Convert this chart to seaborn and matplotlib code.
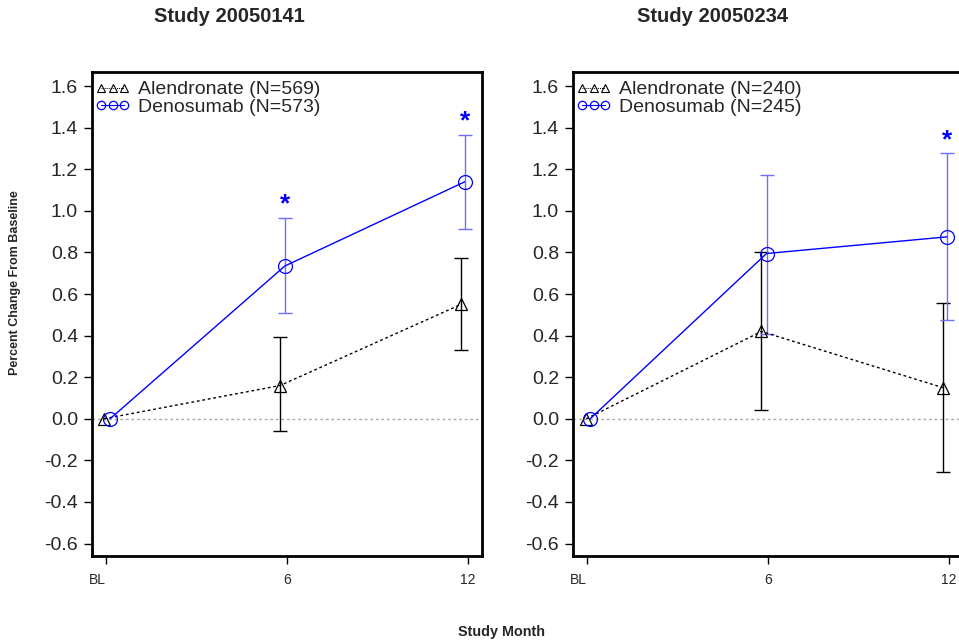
import numpy as np
import pandas as pd
import matplotlib
matplotlib.use("Agg")
import matplotlib.pyplot as plt
from matplotlib.lines import Line2D
import seaborn as sns

# tick positions (months) and labels
month_ticks = [0, 6, 12]
month_labels = ["BL", "6", "12"]

# Study 20050141
s1_title = "Study 20050141"
s1_aln_x = [-0.07, 5.77, 11.77]
s1_aln_y = [0.0, 0.16, 0.55]
s1_aln_lo = [0.0, -0.06, 0.33]
s1_aln_hi = [0.0, 0.395, 0.775]
s1_den_x = [0.13, 5.93, 11.9]
s1_den_y = [0.0, 0.735, 1.14]
s1_den_lo = [0.0, 0.51, 0.915]
s1_den_hi = [0.0, 0.965, 1.365]
s1_star_x = [5.93, 11.9]
s1_star_y = [1.03, 1.43]
s1_labels = ["Alendronate (N=569)", "Denosumab (N=573)"]

# Study 20050234
s2_title = "Study 20050234"
s2_aln_x = [-0.03, 5.78, 11.8]
s2_aln_y = [0.0, 0.42, 0.15]
s2_aln_lo = [0.0, 0.043, -0.255]
s2_aln_hi = [0.0, 0.80, 0.555]
s2_den_x = [0.1, 5.95, 11.93]
s2_den_y = [0.0, 0.795, 0.875]
s2_den_lo = [0.0, 0.41, 0.475]
s2_den_hi = [0.0, 1.175, 1.278]
s2_star_x = [11.93]
s2_star_y = [1.34]
s2_labels = ["Alendronate (N=240)", "Denosumab (N=245)"]

yticks = [-0.6, -0.4, -0.2, 0.0, 0.2, 0.4, 0.6, 0.8, 1.0, 1.2, 1.4, 1.6]

sns.set_style("white")
sns.set_style("ticks")
plt.rcParams["font.family"] = ["Liberation Sans", "DejaVu Sans"]

BLUE = "#0000ff"
LBLUE = "#6e6eff"

fig = plt.figure(figsize=(9.59, 6.43), dpi=100)
ax1 = fig.add_axes([0.0959, 0.1353, 0.4067, 0.7527])
ax2 = fig.add_axes([0.5975, 0.1353, 0.4067, 0.7527])

panels = [
    (ax1, s1_title, s1_aln_x, s1_aln_y, s1_aln_lo, s1_aln_hi,
     s1_den_x, s1_den_y, s1_den_lo, s1_den_hi, s1_star_x, s1_star_y, s1_labels),
    (ax2, s2_title, s2_aln_x, s2_aln_y, s2_aln_lo, s2_aln_hi,
     s2_den_x, s2_den_y, s2_den_lo, s2_den_hi, s2_star_x, s2_star_y, s2_labels),
]
title_x = [0.2395, 0.7425]

for i, (ax, title, ax_, ay, alo, ahi, dx, dy, dlo, dhi, sx, sy, labels) in enumerate(panels):
    ax.axhline(0, color="#aaaaaa", lw=1, ls=(0, (2, 2)), zorder=0)

    # error bars
    ax.errorbar(ax_[1:], ay[1:],
                yerr=[np.array(ay[1:]) - np.array(alo[1:]),
                      np.array(ahi[1:]) - np.array(ay[1:])],
                fmt="none", ecolor="black", elinewidth=1, capsize=5,
                capthick=1)
    ax.errorbar(dx[1:], dy[1:],
                yerr=[np.array(dy[1:]) - np.array(dlo[1:]),
                      np.array(dhi[1:]) - np.array(dy[1:])],
                fmt="none", ecolor=LBLUE, elinewidth=1, capsize=5,
                capthick=1)

    aln = pd.DataFrame(dict(month=ax_, change=ay))
    den = pd.DataFrame(dict(month=dx, change=dy))
    sns.lineplot(data=aln, x="month", y="change", ax=ax, color="black",
                 lw=1, linestyle=(0, (2, 2)), marker="^", markersize=9,
                 markerfacecolor="none", markeredgecolor="black",
                 markeredgewidth=0.9, sort=False, estimator=None)
    sns.lineplot(data=den, x="month", y="change", ax=ax, color=BLUE,
                 lw=1, marker="o", markersize=10, markerfacecolor="none",
                 markeredgecolor=BLUE, markeredgewidth=0.9, sort=False,
                 estimator=None)

    for x, y in zip(sx, sy):
        ax.text(x, y, "*", color=BLUE, fontsize=19, fontweight="bold",
                ha="center", va="center")

    ax.set_xlim(-0.47, 12.47)
    ax.set_ylim(-0.66, 1.668)
    ax.set_xticks(month_ticks)
    ax.set_xticklabels(month_labels, fontsize=10)
    # BL label ends at its tick
    ax.get_xticklabels()[0].set_horizontalalignment("right")
    ax.set_yticks(yticks)
    ax.set_yticklabels(["%.1f" % v for v in yticks], fontsize=14)
    ax.tick_params(axis="both", direction="out", length=6, width=1,
                   color="black")
    ax.tick_params(axis="x", pad=6)
    ax.tick_params(axis="y", pad=4)
    ax.set_xlabel("")
    ax.set_ylabel("")
    for sp in ax.spines.values():
        sp.set_visible(True)
        sp.set_linewidth(2)
        sp.set_color("black")

    handles = [
        Line2D([0], [0], color="black", lw=0.7, ls=(0, (1, 1)), marker="^",
               markersize=5.5, markerfacecolor="none", markeredgewidth=0.8),
        Line2D([0], [0], color=BLUE, lw=0.8, marker="o", markersize=6,
               markerfacecolor="none", markeredgewidth=0.9),
    ]
    ax.legend(handles, labels, loc="upper left", frameon=False, numpoints=3,
              handlelength=1.8, handletextpad=0.4, fontsize=14,
              bbox_to_anchor=(0.008, 0.982), borderaxespad=0, borderpad=0,
              labelspacing=0.0)

    fig.text(title_x[i], 0.9736, title, fontsize=14.5, fontweight="bold",
             ha="center", va="center")

fig.text(0.016, 0.561, "Percent Change From Baseline", rotation=90,
         fontsize=9, fontweight="bold", ha="center", va="center")
fig.text(0.523, 0.017, "Study Month", fontsize=10.4, fontweight="bold",
         ha="center", va="center")

fig.savefig("out.png", dpi=100)
